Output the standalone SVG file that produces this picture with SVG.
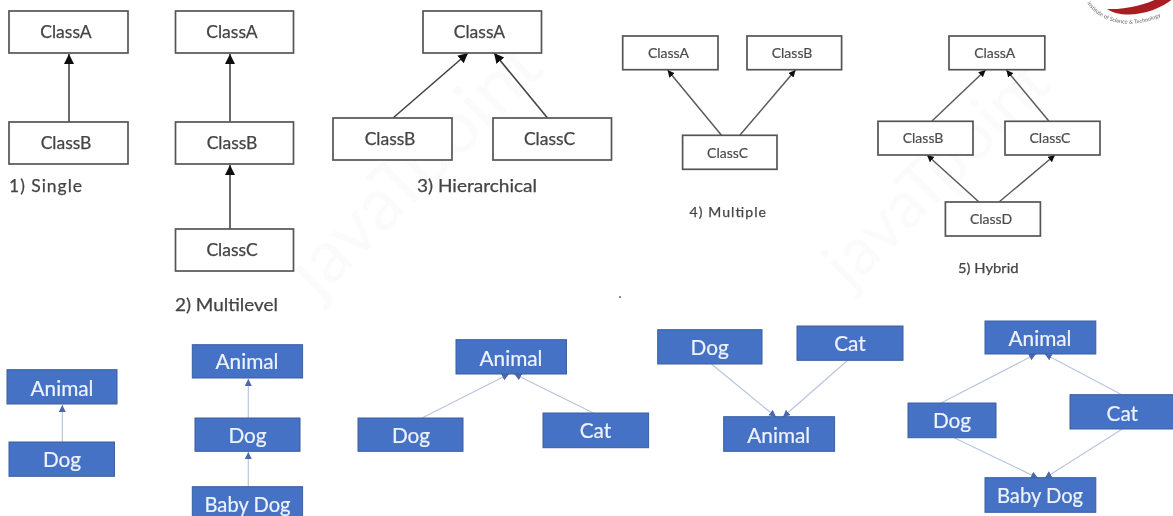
<svg xmlns="http://www.w3.org/2000/svg" width="1173" height="516" viewBox="0 0 1173 516">
<style>
text{font-family:"Lato","Liberation Sans",sans-serif;text-anchor:middle}
.o rect{fill:#fff;stroke:#555;stroke-width:1.7}
.b rect{fill:#4472c4;stroke:#3a5f9f;stroke-width:1}
.o1 text{font-size:17.500px;fill:#444;stroke:#444;stroke-width:.25}
.o2 text{font-size:14px;fill:#4c4c4c;stroke:#4c4c4c;stroke-width:.2}
.b text{font-size:20.800px;fill:#eef2fb;stroke:#eef2fb;stroke-width:.2}
.lab{fill:#444;stroke:#444;stroke-width:.25;text-anchor:start}
.k{stroke:#444;stroke-width:1.6;fill:none;marker-end:url(#ah)}
.k2{stroke:#5a5a5a;stroke-width:1.5;fill:none;marker-end:url(#ah2)}
.u{stroke:#b9c5de;stroke-width:1.2;fill:none;marker-end:url(#au)}
.wm{font-size:74px;fill:#fbfbfb;text-anchor:start}
.wm2{font-size:66px;fill:#fbfbfb;text-anchor:start}
</style>
<defs>
<marker id="ah" markerUnits="userSpaceOnUse" markerWidth="11" markerHeight="11" refX="10" refY="5" orient="auto"><path d="M0 0L10 5L0 10Z" fill="#111"/></marker>
<marker id="ah2" markerUnits="userSpaceOnUse" markerWidth="8" markerHeight="8" refX="7" refY="3.500" orient="auto"><path d="M0 0L7 3.500L0 7Z" fill="#111"/></marker>
<marker id="au" markerUnits="userSpaceOnUse" markerWidth="8" markerHeight="8" refX="7" refY="3.500" orient="auto"><path d="M0 0L7 3.500L0 7Z" fill="#4a69ab"/></marker>
<filter id="soft" x="-2%" y="-2%" width="104%" height="104%"><feGaussianBlur stdDeviation="0.450"/></filter>
</defs>
<rect width="1173" height="516" fill="#fff"/>
<g id="watermark">
<text class="wm" transform="translate(318 300) rotate(-45)">javaTpoint</text>
<text class="wm2" transform="translate(850 290) rotate(-45)">javaTpoint</text>
</g>
<g filter="url(#soft)">
<g id="logo">
<path d="M1107 9C1125 10 1150 4 1162 -4L1176 -4C1160 12 1125 21 1107 9Z" fill="#a81c24"/>
<path id="logoArc" d="M1087 3C1102 26 1140 32 1172 10" fill="none"/>
<text font-size="5.600" fill="#666" style="text-anchor:start;stroke:none"><textPath href="#logoArc">Institute of Science &amp; Technology</textPath></text>
<circle cx="620" cy="297" r="0.900" fill="#555"/>
</g>
<g id="connectors">
<line class="k" x1="69" y1="122" x2="69" y2="54"/>
<line class="k" x1="230" y1="122" x2="230" y2="54"/>
<line class="k" x1="230" y1="229" x2="230" y2="165"/>
<line class="k" x1="393" y1="118" x2="468" y2="53"/>
<line class="k" x1="547.500" y1="118" x2="494" y2="53"/>
<line class="k2" x1="721.300" y1="135" x2="667.600" y2="70"/>
<line class="k2" x1="740" y1="135" x2="795.500" y2="70"/>
<line class="k2" x1="932" y1="121" x2="985.600" y2="70"/>
<line class="k2" x1="1048.800" y1="121" x2="1006.400" y2="70"/>
<line class="k2" x1="979" y1="202" x2="927" y2="155"/>
<line class="k2" x1="999" y1="202" x2="1055" y2="155"/>
<line class="u" x1="62.300" y1="442" x2="62.300" y2="405"/>
<line class="u" x1="248.300" y1="418" x2="248.300" y2="379"/>
<line class="u" x1="248.300" y1="486.700" x2="248.300" y2="452"/>
<line class="u" x1="422" y1="418" x2="509" y2="374"/>
<line class="u" x1="593.400" y1="413" x2="514.300" y2="374"/>
<line class="u" x1="711.400" y1="364" x2="776" y2="417"/>
<line class="u" x1="848" y1="360" x2="783" y2="417"/>
<line class="u" x1="941" y1="403" x2="1036" y2="354"/>
<line class="u" x1="1122.300" y1="395" x2="1044.800" y2="354"/>
<line class="u" x1="954.600" y1="438" x2="1038" y2="478"/>
<line class="u" x1="1122.300" y1="429" x2="1044.800" y2="478"/>
</g>
<g id="s1-a" class="o o1"><rect x="9" y="11" width="119" height="42"/><text x="66" y="38">ClassA</text></g>
<g id="s1-b" class="o o1"><rect x="9" y="122" width="119" height="42"/><text x="66" y="149">ClassB</text></g>
<g id="s2-a" class="o o1"><rect x="175.500" y="11" width="118" height="42"/><text x="232" y="38">ClassA</text></g>
<g id="s2-b" class="o o1"><rect x="175.500" y="122" width="118" height="42"/><text x="232" y="149">ClassB</text></g>
<g id="s2-c" class="o o1"><rect x="175.500" y="229" width="118" height="42"/><text x="232" y="256">ClassC</text></g>
<g id="s3-a" class="o o1"><rect x="423" y="11" width="118.500" height="42"/><text x="479.500" y="38">ClassA</text></g>
<g id="s3-b" class="o o1"><rect x="333" y="118" width="119" height="42"/><text x="390" y="144.500">ClassB</text></g>
<g id="s3-c" class="o o1"><rect x="493" y="118" width="118.500" height="42"/><text x="549.500" y="144.500">ClassC</text></g>
<g id="s4-a" class="o o2"><rect x="622.700" y="36" width="95.300" height="33.700"/><text x="668.500" y="58">ClassA</text></g>
<g id="s4-b" class="o o2"><rect x="747" y="36" width="94.600" height="33.700"/><text x="792" y="58">ClassB</text></g>
<g id="s4-c" class="o o2"><rect x="682.600" y="135.300" width="94.400" height="34"/><text x="727.600" y="157.700">ClassC</text></g>
<g id="s5-a" class="o o2"><rect x="949" y="36" width="95.800" height="33.700"/><text x="994.700" y="58">ClassA</text></g>
<g id="s5-b" class="o o2"><rect x="878" y="121.300" width="95" height="33.700"/><text x="923" y="143.300">ClassB</text></g>
<g id="s5-c" class="o o2"><rect x="1005" y="121.300" width="95" height="33.700"/><text x="1050" y="143.300">ClassC</text></g>
<g id="s5-d" class="o o2"><rect x="945.400" y="202" width="95" height="34"/><text x="991" y="224.300">ClassD</text></g>
<g id="labels">
<text class="lab" x="9" y="192" font-size="17.500" textLength="73" lengthAdjust="spacing">1) Single</text>
<text class="lab" x="175" y="311" font-size="18" textLength="103" lengthAdjust="spacingAndGlyphs">2) Multilevel</text>
<text class="lab" x="417" y="192" font-size="17.500" textLength="120" lengthAdjust="spacingAndGlyphs">3) Hierarchical</text>
<text class="lab" x="689.500" y="217" font-size="14" textLength="76.500" lengthAdjust="spacing">4) Multiple</text>
<text class="lab" x="958" y="273" font-size="14" textLength="60.500" lengthAdjust="spacingAndGlyphs">5) Hybrid</text>
</g>
<g id="b1-animal" class="b"><rect x="7" y="369.700" width="110" height="34.300"/><text x="62" y="396">Animal</text></g>
<g id="b1-dog" class="b"><rect x="9" y="442" width="105.500" height="34.300"/><text x="62" y="467">Dog</text></g>
<g id="b2-animal" class="b"><rect x="192.300" y="344.700" width="110.300" height="33.300"/><text x="247" y="369">Animal</text></g>
<g id="b2-dog" class="b"><rect x="195" y="418" width="105" height="33.300"/><text x="247.500" y="443">Dog</text></g>
<g id="b2-baby" class="b"><rect x="192.300" y="486.700" width="110.300" height="35"/><text x="247.500" y="511.700" textLength="86" lengthAdjust="spacingAndGlyphs">Baby Dog</text></g>
<g id="b3-animal" class="b"><rect x="456" y="339.700" width="110.500" height="34.300"/><text x="511" y="365.700">Animal</text></g>
<g id="b3-dog" class="b"><rect x="358" y="418" width="105" height="33.300"/><text x="411" y="443">Dog</text></g>
<g id="b3-cat" class="b"><rect x="543" y="413" width="105.600" height="34.700"/><text x="595.500" y="438">Cat</text></g>
<g id="b4-dog" class="b"><rect x="657.700" y="329.700" width="104.300" height="34.300"/><text x="709.700" y="355">Dog</text></g>
<g id="b4-cat" class="b"><rect x="797" y="326" width="106" height="34.300"/><text x="850" y="350.700">Cat</text></g>
<g id="b4-animal" class="b"><rect x="723.700" y="416.700" width="110.900" height="34.600"/><text x="778.800" y="442.700">Animal</text></g>
<g id="b5-animal" class="b"><rect x="985" y="321" width="110.800" height="33"/><text x="1040" y="345.700">Animal</text></g>
<g id="b5-dog" class="b"><rect x="908" y="403" width="88" height="34.700"/><text x="952" y="428">Dog</text></g>
<g id="b5-cat" class="b"><rect x="1070" y="394.700" width="105" height="34.300"/><text x="1122.300" y="420.700">Cat</text></g>
<g id="b5-baby" class="b"><rect x="985" y="477.700" width="110.800" height="34.600"/><text x="1040" y="502.700" textLength="86" lengthAdjust="spacingAndGlyphs">Baby Dog</text></g>
</g>
</svg>
